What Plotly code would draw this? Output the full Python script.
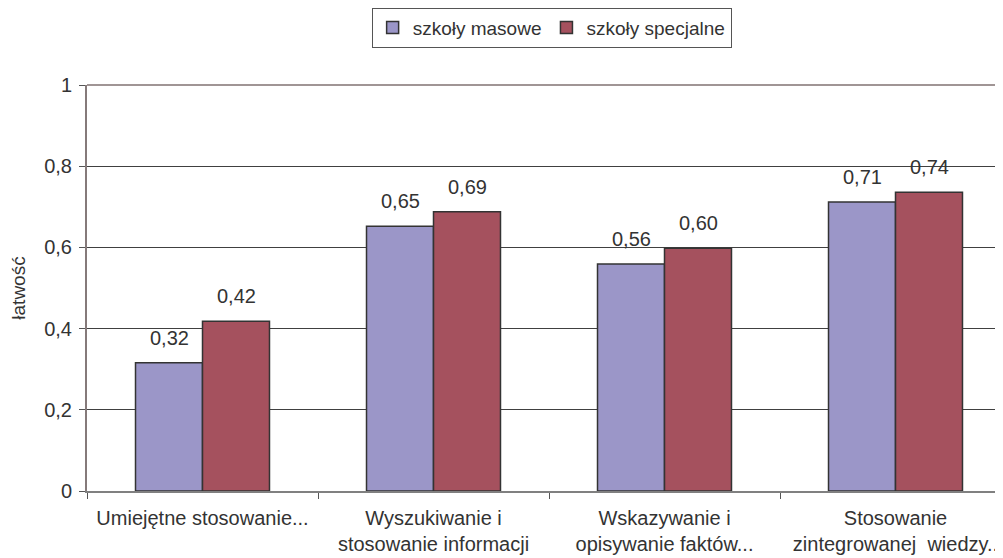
import plotly.graph_objects as go

categories = [
    "Umiejętne stosowanie...",
    "Wyszukiwanie i<br>stosowanie informacji",
    "Wskazywanie i<br>opisywanie faktów...",
    "Stosowanie<br>zintegrowanej  wiedzy..",
]
series_names = ["szkoły masowe", "szkoły specjalne"]
masowe = [0.316, 0.652, 0.559, 0.712]
specjalne = [0.418, 0.688, 0.598, 0.736]
colors = ["#9B96C8", "#A5515E"]

FONT = "Liberation Sans, Arial, sans-serif"
TXT = "#333333"

fig = go.Figure()
for name, vals, col in zip(series_names, [masowe, specjalne], colors):
    fig.add_trace(go.Bar(
        name=name, x=categories, y=vals,
        marker=dict(color=col, line=dict(color="#333333", width=1.5)),
    ))

# value labels above bars (offset to each bar of the group)
for vals, shift in zip([masowe, specjalne], [-33.5, 33.5]):
    for c, v in zip(categories, vals):
        fig.add_annotation(
            x=c, y=v, xref="x", yref="y",
            text=f"{v:.2f}".replace(".", ","),
            showarrow=False, xshift=shift, yshift=12, yanchor="bottom",
            font=dict(family=FONT, size=20, color=TXT),
        )

fig.update_layout(
    width=1003, height=558,
    margin=dict(l=79, r=0, t=77, b=75),
    paper_bgcolor="white", plot_bgcolor="white",
    barmode="group", bargap=0.42, bargroupgap=0,
    separators=",.",
    font=dict(family=FONT, size=20, color=TXT),
    showlegend=True,
    legend=dict(
        orientation="h", xref="container", yref="container",
        x=0.542, xanchor="center", y=0.965, yanchor="middle",
        bordercolor="#555555", borderwidth=1,
        font=dict(family=FONT, size=19, color=TXT),
        itemwidth=30,
    ),
)
fig.update_xaxes(
    range=[-0.5, 3.5], automargin=False,
    showline=True, linecolor="#808080", linewidth=2,
    ticks="outside", tickson="boundaries", ticklen=6, tickcolor="#555555",
    tickfont=dict(family=FONT, size=20, color=TXT),
    ticklabelstandoff=8,
    showgrid=False,
)
fig.update_yaxes(
    range=[0, 1], dtick=0.2, automargin=False,
    showline=True, linecolor="#857A7A", linewidth=2,
    ticks="outside", ticklen=6, tickcolor="#555555",
    tickfont=dict(family=FONT, size=20, color=TXT),
    ticklabelstandoff=3,
    showgrid=True, gridcolor="#404040", gridwidth=1,
    zeroline=False,
    title=dict(text="łatwość", font=dict(family=FONT, size=19, color=TXT), standoff=14),
)
# top border of plot area
fig.add_shape(type="line", xref="paper", yref="paper", x0=0, x1=1, y0=1, y1=1,
              line=dict(color="#A09595", width=2))

fig.write_html("out.html")
